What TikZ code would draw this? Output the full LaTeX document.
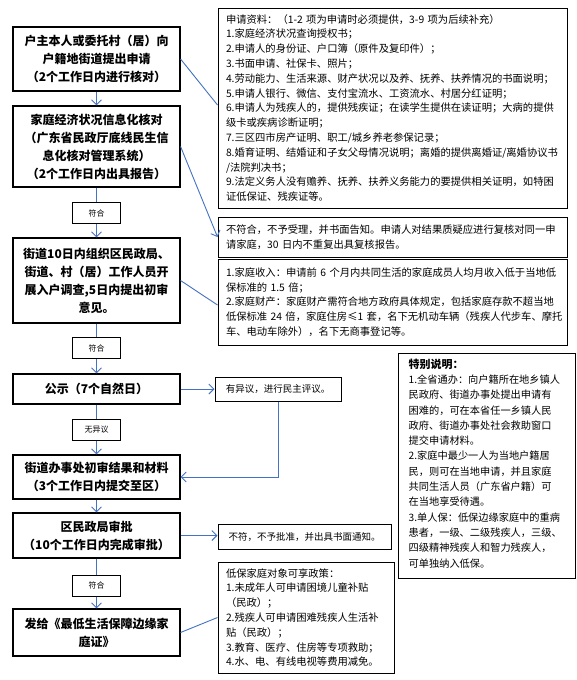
\documentclass[tikz,border=0pt]{standalone}
\usepackage{fontspec}
\setmainfont{Noto Sans CJK SC}
\usetikzlibrary{arrows.meta}
\definecolor{flowblue}{HTML}{4472C4}
\begin{document}
\begin{tikzpicture}[x=1pt,y=-1pt,
 mainbox/.style={draw,line width=1.1pt,minimum width=167pt,align=center,inner sep=2pt,font=\bfseries\fontsize{12}{18}\selectfont},
 tagbox/.style={draw,line width=1pt,minimum width=48pt,minimum height=21pt,inner sep=1pt,font=\fontsize{8}{10}\selectfont},
 note/.style={draw,line width=1pt,align=left,inner xsep=8pt,inner ysep=2pt,font=\fontsize{10.3}{14.8}\selectfont},
 plainbox/.style={draw,line width=1pt,inner sep=1pt,font=\fontsize{9.5}{11}\selectfont},
 flow/.style={draw=flowblue,line width=0.9pt},
 arr/.style={flow,-{Straight Barb[length=5pt,width=10pt]}}]
\useasboundingbox[fill=white] (0,0) rectangle (577,680);

% left column
\node[mainbox,minimum height=64pt] (b1) at (96.5,59) {户主本人或委托村（居）向\\户籍地街道提出申请\\（2个工作日内进行核对）};
\node[mainbox,minimum height=81pt] (b2) at (96.5,146.5) {家庭经济状况信息化核对\\（广东省民政厅底线民生信\\息化核对管理系统）\\（2个工作日内出具报告）};
\node[tagbox] (t1) at (96.5,213) {符合};
\node[mainbox,minimum height=85pt] (b3) at (96.5,280.5) {街道10日内组织区民政局、\\街道、村（居）工作人员开\\展入户调查,5日内提出初审\\意见。};
\node[tagbox] (t2) at (96.5,348) {符合};
\node[mainbox,minimum height=30pt] (b4) at (96.5,389) {公示（7个自然日）};
\node[tagbox] (t3) at (96.5,429.5) {无异议};
\node[mainbox,minimum height=44pt] (b5) at (96.5,477) {街道办事处初审结果和材料\\（3个工作日内提交至区）};
\node[mainbox,minimum height=45pt] (b6) at (96.5,535.5) {区民政局审批\\（10个工作日内完成审批）};
\node[tagbox] (t4) at (96.5,585.5) {符合};
\node[mainbox,minimum height=47pt] (b7) at (96.5,632.5) {发给《最低生活保障边缘家\\庭证》};

% right column
\node[note,text width=333pt,minimum height=200pt] (r1) at (392.5,108) {申请资料：（1-2~项为申请时必须提供，3-9~项为后续补充）\\
1.家庭经济状况查询授权书；\\
2.申请人的身份证、户口簿（原件及复印件）；\\
3.书面申请、社保卡、照片；\\
4.劳动能力、生活来源、财产状况以及养、抚养、扶养情况的书面说明；\\
5.申请人银行、微信、支付宝流水、工资流水、村居分红证明；\\
6.申请人为残疾人的，提供残疾证；在读学生提供在读证明；大病的提供\\
级卡或疾病诊断证明；\\
7.三区四市房产证明、职工/城乡养老参保记录；\\
8.婚育证明、结婚证和子女父母情况说明；离婚的提供离婚证/离婚协议书\\
/法院判决书；\\
9.法定义务人没有赡养、抚养、扶养义务能力的要提供相关证明，如特困\\
证低保证、残疾证等。};
\node[note,text width=333pt,minimum height=40pt] (r2) at (392.5,237) {不符合，不予受理，并书面告知。申请人对结果质疑应进行复核对同一申\\
请家庭，30~日内不重复出具复核报告。};
\node[note,text width=333pt,minimum height=86pt] (r3) at (392.5,302) {1.家庭收入：申请前~6~个月内共同生活的家庭成员人均月收入低于当地低\\
保标准的~1.5~倍；\\
2.家庭财产：家庭财产需符合地方政府具体规定，包括家庭存款不超当地\\
低保标准~24~倍，家庭住房≤1~套，名下无机动车辆（残疾人代步车、摩托\\
车、电动车除外），名下无商事登记等。};

\node[draw,line width=1pt,minimum width=177pt,minimum height=225pt] (s) at (486.5,465.5) {};
\node[anchor=north west,align=left,inner sep=0pt,font=\fontsize{10.2}{15.3}\selectfont] (stext) at ([xshift=11pt,yshift=-6pt]s.north west) {{\bfseries\fontsize{11}{15.3}\selectfont 特别说明：}\\
1.全省通办：向户籍所在地乡镇人\\
民政府、街道办事处提出申请有\\
困难的，可在本省任一乡镇人民\\
政府、街道办事处社会救助窗口\\
提交申请材料。\\
2.家庭中最少一人为当地户籍居\\
民，则可在当地申请，并且家庭\\
共同生活人员（广东省户籍）可\\
在当地享受待遇。\\
3.单人保：低保边缘家庭中的重病\\
患者，一级、二级残疾人，三级、\\
四级精神残疾人和智力残疾人，\\
可单独纳入低保。};

\node[plainbox,minimum width=126pt,minimum height=24pt] (y) at (278,389) {有异议，进行民主评议。};
\node[plainbox,minimum width=173pt,minimum height=25pt] (n) at (304.5,536.5) {不符，不予批准，并出具书面通知。};
\node[note,text width=160pt,minimum height=111pt] (p) at (306,617.5) {低保家庭对象可享政策：\\
1.未成年人可申请困境儿童补贴\\
（民政）；\\
2.残疾人可申请困难残疾人生活补\\
贴（民政）；\\
3.教育、医疗、住房等专项救助；\\
4.水、电、有线电视等费用减免。};

% connectors
\draw[arr] (b1) -- (b2);
\draw[flow] (b2) -- (t1);
\draw[arr] (t1) -- (b3);
\draw[flow] (b3) -- (t2);
\draw[arr] (t2) -- (b4);
\draw[flow] (b4) -- (t3);
\draw[arr] (t3) -- (b5);
\draw[arr] (b5) -- (b6);
\draw[flow] (b6) -- (t4);
\draw[arr] (t4) -- (b7);
\draw[flow] (b1.east) -- ([yshift=3pt]r1.west);
\draw[arr] (b2.east) -- (r2.west);
\draw[flow] (b3.east) -- ([yshift=-3pt]r3.west);
\draw[arr] (b4.east) -- (y.west);
\draw[arr] (y.south) |- (b5.east);
\draw[arr] (b6.east) -- (b6.east -| n.west);
\draw[flow] (b7.east) -- (p.west);
\end{tikzpicture}
\end{document}
